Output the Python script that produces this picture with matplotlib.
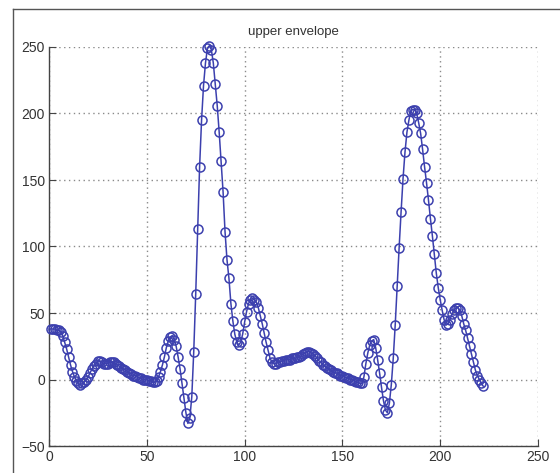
import numpy as np
import matplotlib
matplotlib.use('Agg')
import matplotlib.pyplot as plt
from matplotlib.lines import Line2D

plt.rcParams['font.family'] = ['Liberation Sans', 'DejaVu Sans']

# upper envelope samples (index 1..222)
envelope = [
    38, 38, 38, 37, 37, 36, 33, 28, 23, 17,
    11, 6, 2, -1, -3, -4, -3, -2, 0, 2,
    5, 8, 10, 12, 14, 14, 13, 12, 12, 12,
    13, 13, 13, 12, 11, 10, 9, 8, 7, 6,
    5, 4, 3, 3, 2, 1, 1, 0, 0, 0,
    -1, -1, -2, -2, -1, 2, 6, 11, 17, 24,
    29, 32, 33, 30, 25, 17, 8, -3, -14, -25,
    -33, -29, -13, 21, 64, 113, 160, 195, 221, 238,
    249, 251, 248, 238, 222, 206, 186, 164, 141, 111,
    90, 76, 57, 44, 34, 28, 26, 28, 34, 43,
    51, 57, 60, 61, 60, 58, 54, 48, 42, 35,
    28, 22, 16, 13, 12, 12, 13, 13, 14, 14,
    15, 15, 15, 16, 16, 16, 17, 17, 18, 19,
    20, 21, 21, 20, 19, 18, 16, 14, 13, 11,
    10, 9, 8, 7, 6, 5, 5, 4, 3, 3,
    2, 1, 1, 0, 0, -1, -2, -2, -3, -3,
    2, 12, 20, 26, 29, 30, 24, 15, 5, -6,
    -16, -23, -25, -18, -4, 16, 41, 70, 99, 126,
    151, 171, 186, 195, 202, 203, 203, 200, 193, 185,
    173, 160, 148, 135, 121, 108, 94, 80, 69, 60,
    52, 45, 41, 42, 45, 49, 52, 54, 54, 52,
    48, 42, 37, 31, 25, 19, 13, 7, 3, 0,
    -3, -5,
]
sample = np.arange(1, len(envelope) + 1)

x_ticks = [0, 50, 100, 150, 200, 250]
y_ticks = [-50, 0, 50, 100, 150, 200, 250]

fig = plt.figure(figsize=(5.6, 4.73), dpi=100)
ax = fig.add_axes([49 / 560, 1 - 446 / 473, 489 / 560, 399 / 473])

ax.plot(sample, envelope, '-o', color='#3c40ae', linewidth=1.1,
        markersize=6.5, markerfacecolor='none', markeredgewidth=1.1,
        clip_on=False, zorder=3)

ax.set_xlim(0, 250)
ax.set_ylim(-50, 250)
ax.set_xticks(x_ticks)
ax.set_yticks(y_ticks)
ax.grid(True, linestyle=(0, (1, 2.5)), color='#8a8a8a', linewidth=1.0)
ax.set_axisbelow(True)
ax.spines['top'].set_visible(False)
ax.spines['right'].set_visible(False)
for s in ['left', 'bottom']:
    ax.spines[s].set_color('#444444')
    ax.spines[s].set_linewidth(1.0)
ax.tick_params(direction='in', length=5, colors='#444444', labelsize=10,
               labelcolor='#333333', pad=3)
ax.set_title('upper envelope', fontsize=9.5, color='#333333', pad=9)

# outer frame of the figure window
fig.add_artist(Line2D([12.5 / 560, 12.5 / 560], [0, 1 - 9.5 / 473],
                      color='#555555', linewidth=1.0))
fig.add_artist(Line2D([12.5 / 560, 1], [1 - 9.5 / 473, 1 - 9.5 / 473],
                      color='#555555', linewidth=1.0))

fig.savefig('out.png', dpi=100, facecolor='white')
plt.close(fig)
